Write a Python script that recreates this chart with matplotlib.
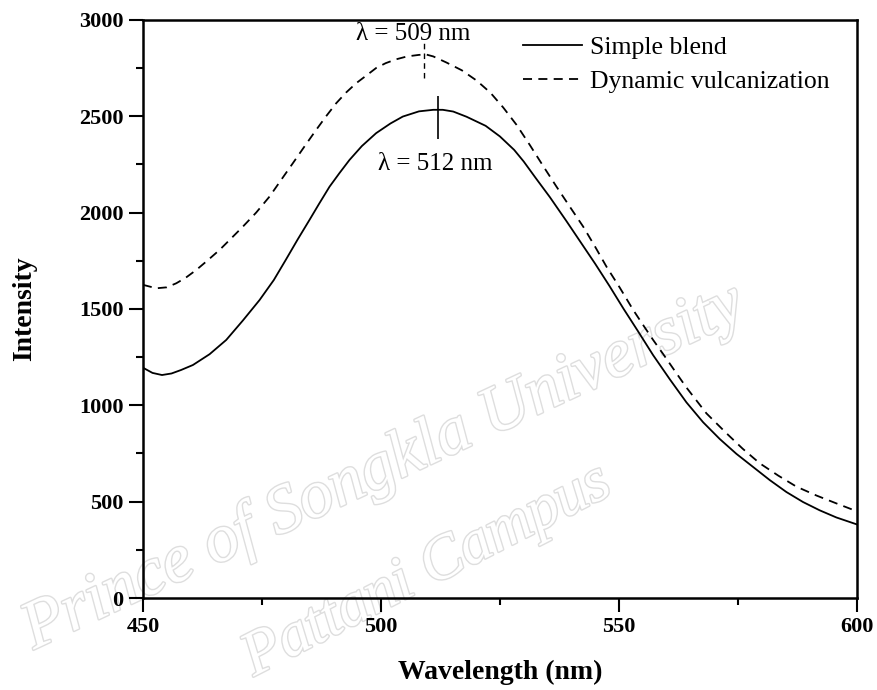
import numpy as np
import matplotlib
import matplotlib.pyplot as plt
import matplotlib.patheffects as pe
from matplotlib.ticker import MultipleLocator

matplotlib.use("Agg")

plt.rcParams["font.family"] = ["Liberation Serif", "DejaVu Serif"]

# emission spectra
wl_simple = [450, 452, 454, 456, 458, 460.5, 464, 467.5, 471, 474.5, 477.5,
             480, 482.5, 485, 487, 489.2, 491.3, 493.4, 496, 499, 502, 504.6,
             508, 511, 513, 515.2, 518, 522, 525, 528, 530, 532.5, 535.5, 539,
             542, 545, 548, 551, 554, 557.2, 560.7, 564.2, 567.7, 571.2, 574.7,
             578.2, 581.7, 585.2, 588.7, 592.2, 595.7, 600]
i_simple = [1195, 1168, 1157, 1165, 1183, 1209, 1265, 1339, 1440, 1546, 1650,
            1754, 1860, 1962, 2045, 2134, 2205, 2273, 2345, 2412, 2462, 2498,
            2525, 2533, 2533, 2524, 2497, 2450, 2395, 2325, 2265, 2180, 2080,
            1955, 1845, 1735, 1620, 1500, 1385, 1260, 1135, 1015, 912, 825, 748,
            680, 612, 550, 498, 455, 418, 382]

wl_dynamic = [450, 452.8, 455, 457, 459, 461.2, 463.5, 466.1, 468.5, 471,
              473.8, 476.6, 479, 481.5, 484, 486.4, 488.5, 490.6, 492.7, 494.8,
              497, 499, 501, 503.2, 505.5, 508, 509.5, 511, 513.8, 517, 520.1,
              523, 525.7, 528.5, 531.3, 534, 536.9, 539.7, 542.5, 545, 547.4,
              550.2, 553, 555, 557.2, 559.3, 562.1, 564.2, 566.3, 568.4, 572.6,
              576, 579.6, 583.5, 587.3, 591.5, 595.7, 600]
i_dynamic = [1625, 1607, 1612, 1633, 1662, 1702, 1750, 1806, 1865, 1927, 2000,
             2083, 2168, 2256, 2345, 2429, 2500, 2567, 2623, 2671, 2712, 2750,
             2775, 2795, 2810, 2818, 2820, 2810, 2778, 2738, 2685, 2622, 2545,
             2455, 2350, 2245, 2134, 2030, 1927, 1823, 1719, 1610, 1495, 1420,
             1339, 1266, 1166, 1092, 1025, 958, 855, 775, 699, 635, 578, 532,
             491, 450]

peak_simple = (512, 2533)
peak_dynamic = (509, 2820)

fig = plt.figure(figsize=(8.77, 6.9), dpi=100)
ax = fig.add_axes([0.163, 0.1333, 0.814, 0.838])
ax.patch.set_visible(False)

ax.plot(wl_simple, i_simple, color="black", lw=1.3, label="Simple blend")
ax.plot(wl_dynamic, i_dynamic, color="black", lw=1.3, dashes=(5, 3.5),
        label="Dynamic vulcanization")

# peak markers
ax.vlines(peak_simple[0], peak_simple[1] - 150, peak_simple[1] + 70,
          color="black", lw=1.2)
ax.vlines(peak_dynamic[0], peak_dynamic[1] - 120, peak_dynamic[1] + 60,
          color="black", lw=1.0, linestyles=(0, (4, 3)))
ax.text(511.5, 2250, "\u03bb = 512 nm", ha="center", va="center", fontsize=18)
ax.text(506.7, 2925, "\u03bb = 509 nm", ha="center", va="center", fontsize=18)

ax.set_xlim(450, 600)
ax.set_ylim(0, 3000)
ax.xaxis.set_major_locator(MultipleLocator(50))
ax.xaxis.set_minor_locator(MultipleLocator(25))
ax.yaxis.set_major_locator(MultipleLocator(500))
ax.yaxis.set_minor_locator(MultipleLocator(250))
ax.tick_params(which="both", direction="out", width=1.5, top=False, right=False)
ax.tick_params(which="major", length=10, labelsize=16, pad=4)
ax.tick_params(which="minor", length=5)
for lab in ax.get_xticklabels() + ax.get_yticklabels():
    lab.set_fontweight("bold")
for sp in ax.spines.values():
    sp.set_linewidth(1.8)

ax.set_xlabel("Wavelength (nm)", fontsize=20, fontweight="bold", labelpad=16)
ax.set_ylabel("Intensity", fontsize=20, fontweight="bold", labelpad=30)

leg = ax.legend(loc="upper right", frameon=False, fontsize=18.5,
                handlelength=2.3, handletextpad=0.3, labelspacing=0.45,
                borderaxespad=0, bbox_to_anchor=(0.976, 0.99))

# faint outlined watermark behind the plot
wm = dict(color="white", style="italic", ha="center", va="center", zorder=-1,
          path_effects=[pe.withStroke(linewidth=2.0, foreground="#dedede")])
fig.text(0.437, 0.322, "Prince of Songkla University", rotation=25,
         fontsize=49, **wm)
fig.text(0.487, 0.172, "Pattani Campus", rotation=27, fontsize=45, **wm)

fig.savefig("out.png", dpi=100)
